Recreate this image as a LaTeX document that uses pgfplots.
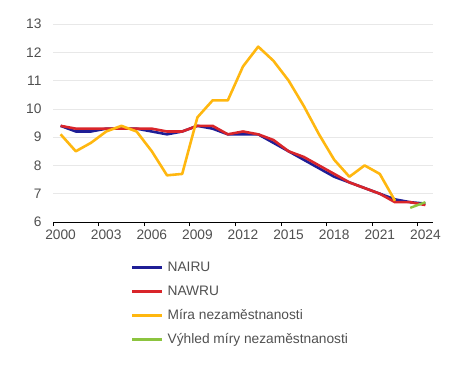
\documentclass[border=0pt]{standalone}
\usepackage{pgfplots}
\pgfplotsset{compat=1.18}
\usepackage{fontspec}
\setmainfont{Liberation Sans}
\definecolor{cblue}{HTML}{1F1E96}
\definecolor{cred}{HTML}{D9252A}
\definecolor{cyel}{HTML}{FFB70F}
\definecolor{cgreen}{HTML}{8CC43F}
\definecolor{ctext}{HTML}{505050}
\definecolor{cgrid}{HTML}{E8E8E8}
\begin{document}
\begin{tikzpicture}
\useasboundingbox (0,0) rectangle (474bp,369bp);
\begin{axis}[
  at={(53bp,147bp)}, anchor=south west,
  scale only axis, width=380bp, height=198bp,
  xmin=2000, xmax=2025, ymin=6, ymax=13,
  xtick={2000,2003,...,2024}, ytick={6,...,13},
  /pgf/number format/1000 sep={},
  /pgf/number format/assume math mode=true,
  tick label style={font=\fontsize{13.8}{16}\selectfont, text=ctext},
  axis line style={draw=none},
  axis x line*=bottom, axis y line*=left,
  x axis line style={draw=black, line width=0.8pt},
  y axis line style={draw=none},
  xtick style={draw=black, line width=0.8pt},
  ytick style={draw=none},
  tick align=outside, major tick length=4bp,
  ymajorgrids, grid style={cgrid, line width=0.6pt},
  yticklabel style={xshift=-4bp},
  xticklabel style={xshift=7.6bp, yshift=0bp},
  clip=false,
  legend style={at={(rel axis cs:0.197,-0.185)}, anchor=north west, draw=none, fill=none,
    font=\fontsize{13.8}{16}\selectfont, text=ctext,
    nodes={inner sep=0pt, text height=10.5bp, text depth=3bp, anchor=west},
    row sep=10.5bp, column sep=4bp},
  legend cell align=left,
  legend image code/.code={\draw[#1] (0bp,0bp) -- (30bp,0bp);},
]
\addplot[cblue, line width=2.6pt, line join=round] coordinates {
(2000.5,9.4)(2001.5,9.2)(2002.5,9.2)(2003.5,9.3)(2004.5,9.3)(2005.5,9.3)(2006.5,9.2)(2007.5,9.1)(2008.5,9.2)(2009.5,9.4)(2010.5,9.3)(2011.5,9.1)(2012.5,9.1)(2013.5,9.1)(2014.5,8.8)(2015.5,8.5)(2016.5,8.2)(2017.5,7.9)(2018.5,7.6)(2019.5,7.4)(2020.5,7.2)(2021.5,7.0)(2022.5,6.8)(2023.5,6.7)(2024.5,6.65)};
\addlegendentry{NAIRU}
\addplot[cred, line width=2.6pt, line join=round] coordinates {
(2000.5,9.4)(2001.5,9.3)(2002.5,9.3)(2003.5,9.3)(2004.5,9.3)(2005.5,9.3)(2006.5,9.3)(2007.5,9.2)(2008.5,9.2)(2009.5,9.4)(2010.5,9.4)(2011.5,9.1)(2012.5,9.2)(2013.5,9.1)(2014.5,8.9)(2015.5,8.5)(2016.5,8.3)(2017.5,8.0)(2018.5,7.7)(2019.5,7.4)(2020.5,7.2)(2021.5,7.0)(2022.5,6.7)(2023.5,6.7)(2024.5,6.6)};
\addlegendentry{NAWRU}
\addplot[cyel, line width=2.6pt, line join=round] coordinates {
(2000.5,9.1)(2001.5,8.5)(2002.5,8.8)(2003.5,9.2)(2004.5,9.4)(2005.5,9.2)(2006.5,8.5)(2007.5,7.65)(2008.5,7.7)(2009.5,9.7)(2010.5,10.3)(2011.5,10.3)(2012.5,11.5)(2013.5,12.2)(2014.5,11.7)(2015.5,11.0)(2016.5,10.1)(2017.5,9.1)(2018.5,8.2)(2019.5,7.6)(2020.5,8.0)(2021.5,7.7)(2022.5,6.75)};
\addlegendentry{Míra nezaměstnanosti}
\addplot[cgreen, line width=2.4pt] coordinates {(2023.5,6.5)(2024.5,6.7)};
\addlegendentry{Výhled míry nezaměstnanosti}
\end{axis}
\end{tikzpicture}
\end{document}
